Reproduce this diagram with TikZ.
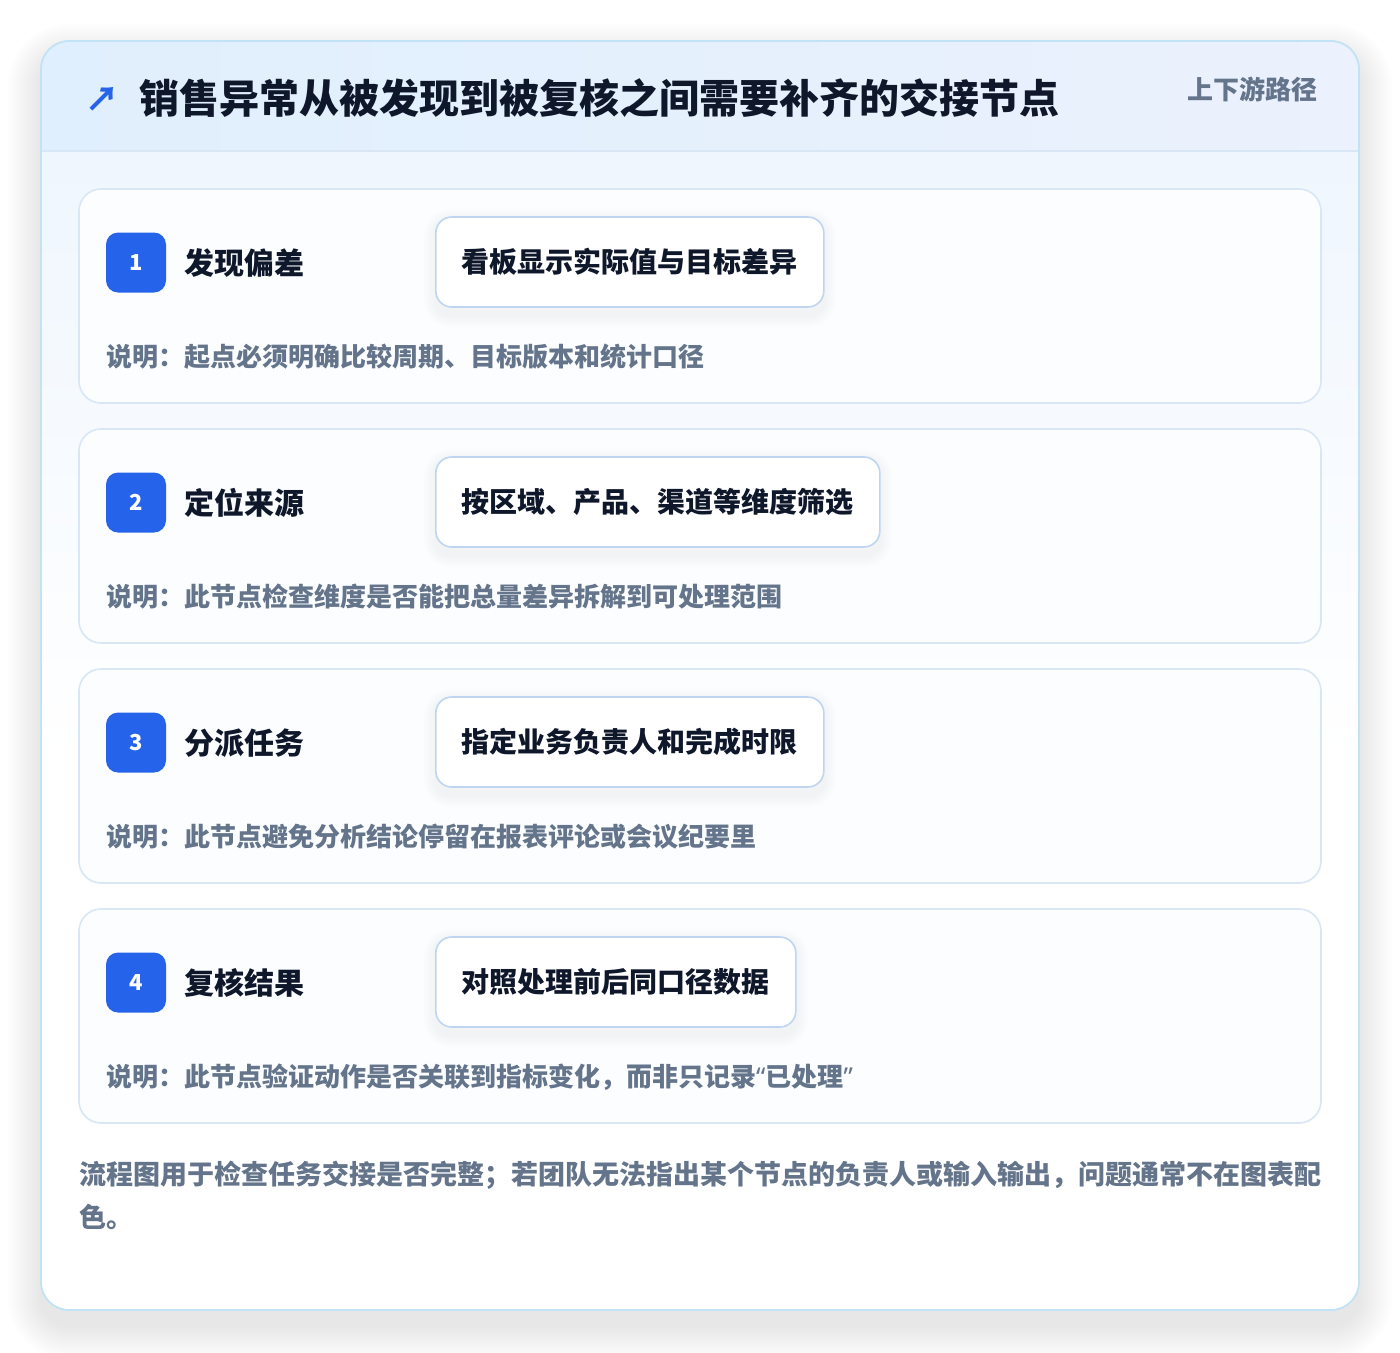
\documentclass[tikz,border=0pt]{standalone}
\usepackage{fontspec}
\setmainfont{Noto Sans CJK SC}
\newfontfamily\cjk{Noto Sans CJK SC}
\newfontfamily\latinq{Noto Sans}
\pgfdeclarelayer{bg}
\pgfdeclarelayer{shadowlayer}
\pgfsetlayers{bg,shadowlayer,main}
\definecolor{accent}{HTML}{2563EB}
\definecolor{ink}{HTML}{0F172A}
\definecolor{muted}{HTML}{64748B}
\definecolor{outerline}{HTML}{C2E2F6}
\definecolor{cardline}{HTML}{D8E6F5}
\definecolor{boxline}{HTML}{C0D5F1}
\definecolor{headL}{HTML}{E0EFFD}
\definecolor{headR}{HTML}{EBF1FD}
\definecolor{bodytop}{HTML}{EFF6FE}
\definecolor{cardfill}{HTML}{FBFDFF}
\definecolor{shadowc}{HTML}{1E293B}
\tikzset{
  outercard/.style={rounded corners=28pt, minimum width=1318pt, minimum height=1269pt, inner sep=0pt},
  stepcard/.style={draw=cardline, line width=1.6pt, fill=cardfill, rounded corners=22pt, minimum width=1242pt, minimum height=214pt, inner sep=0pt},
  badge/.style={fill=accent, rounded corners=12pt, minimum width=60pt, minimum height=60pt, inner sep=0pt, text=white, font=\cjk\bfseries\fontsize{22}{26}\selectfont},
  steptitle/.style={anchor=west, inner sep=0pt, text=ink, font=\cjk\bfseries\fontsize{30}{36}\selectfont},
  actionbox/.style={anchor=west, draw=boxline, line width=1.6pt, fill=white, rounded corners=16pt, minimum height=90pt, inner xsep=26pt, inner ysep=0pt, text=ink, font=\cjk\bfseries\fontsize{28}{34}\selectfont},
  desc/.style={anchor=west, inner sep=0pt, text=muted, font=\cjk\bfseries\fontsize{26}{32}\selectfont},
  foot/.style={anchor=west, inner sep=0pt, text=muted, font=\cjk\bfseries\fontsize{27}{32}\selectfont},
}
\begin{document}
\begin{tikzpicture}[x=1pt,y=-1pt]
\useasboundingbox (0,0) rectangle (1400,1352);
\begin{pgfonlayer}{bg}
\fill[white] (0,0) rectangle (1400,1352);
% soft outer shadow
\foreach \k in {1,...,24}{
  \fill[shadowc, opacity=0.003, rounded corners=28pt+\k*1.4pt]
    (41-\k*1.4, 41-\k*1.4+16) rectangle (1359+\k*1.4, 1310+\k*1.4+16);
}
\node[outercard, fill=white] (card) at (700,675.5) {};
\begin{scope}
  \clip[rounded corners=28pt] (41,41) rectangle (1359,1310);
  \shade[left color=headL, right color=headR] (41,41) rectangle (1359,151);
  \shade[top color=bodytop, bottom color=white] (41,151) rectangle (1359,760);
  \draw[cardline, line width=1.5pt] (41,151) -- (1359,151);
\end{scope}
\draw[outerline, line width=1.8pt, rounded corners=28pt] (41,41) rectangle (1359,1310);
\end{pgfonlayer}
% header
\node[anchor=center, inner sep=0pt, text=accent, font=\cjk\bfseries\fontsize{34}{38}\selectfont] (icon) at (102,99) {↗};
\node[anchor=west, inner sep=0pt, text=ink, font=\cjk\bfseries\fontsize{40}{46}\selectfont] (title) at (139,98) {销售异常从被发现到被复核之间需要补齐的交接节点};
\node[anchor=east, inner sep=0pt, text=muted, font=\cjk\bfseries\fontsize{26}{30}\selectfont] (tag) at (1318,89) {上下游路径};
% step cards
\foreach \i/\yy/\ttl/\act/\dsc in {
  1/296/发现偏差/看板显示实际值与目标差异/说明：起点必须明确比较周期、目标版本和统计口径,
  2/536/定位来源/按区域、产品、渠道等维度筛选/说明：此节点检查维度是否能把总量差异拆解到可处理范围,
  3/776/分派任务/指定业务负责人和完成时限/说明：此节点避免分析结论停留在报表评论或会议纪要里,
  4/1016/复核结果/对照处理前后同口径数据/说明：此节点验证动作是否关联到指标变化，而非只记录{\latinq“}已处理{\latinq”}}{
  \begin{pgfonlayer}{bg}
  \node[stepcard] (card\i) at (700,\yy) {};
  \end{pgfonlayer}
  \node[badge] (badge\i) at (136,\yy-33.5) {\i};
  \node[steptitle] (title\i) at (184,\yy-33) {\ttl};
  \node[actionbox] (act\i) at (435,\yy-34) {\act};
  \begin{pgfonlayer}{shadowlayer}
  \foreach \k in {1,...,10}{
    \fill[shadowc, opacity=0.0042, rounded corners=16pt+\k*1.2pt]
      ([xshift=-\k*1.2pt, yshift=\k*1.2pt-4pt]act\i.north west) rectangle ([xshift=\k*1.2pt, yshift=-\k*1.2pt-8pt]act\i.south east);
  }
  \end{pgfonlayer}
  \node[desc] (desc\i) at (106,\yy+61) {\dsc};
}
% footer
\node[foot] (foot1) at (79,1175) {流程图用于检查任务交接是否完整；若团队无法指出某个节点的负责人或输入输出，问题通常不在图表配};
\node[foot] (foot2) at (79,1217) {色。};
\end{tikzpicture}
\end{document}
